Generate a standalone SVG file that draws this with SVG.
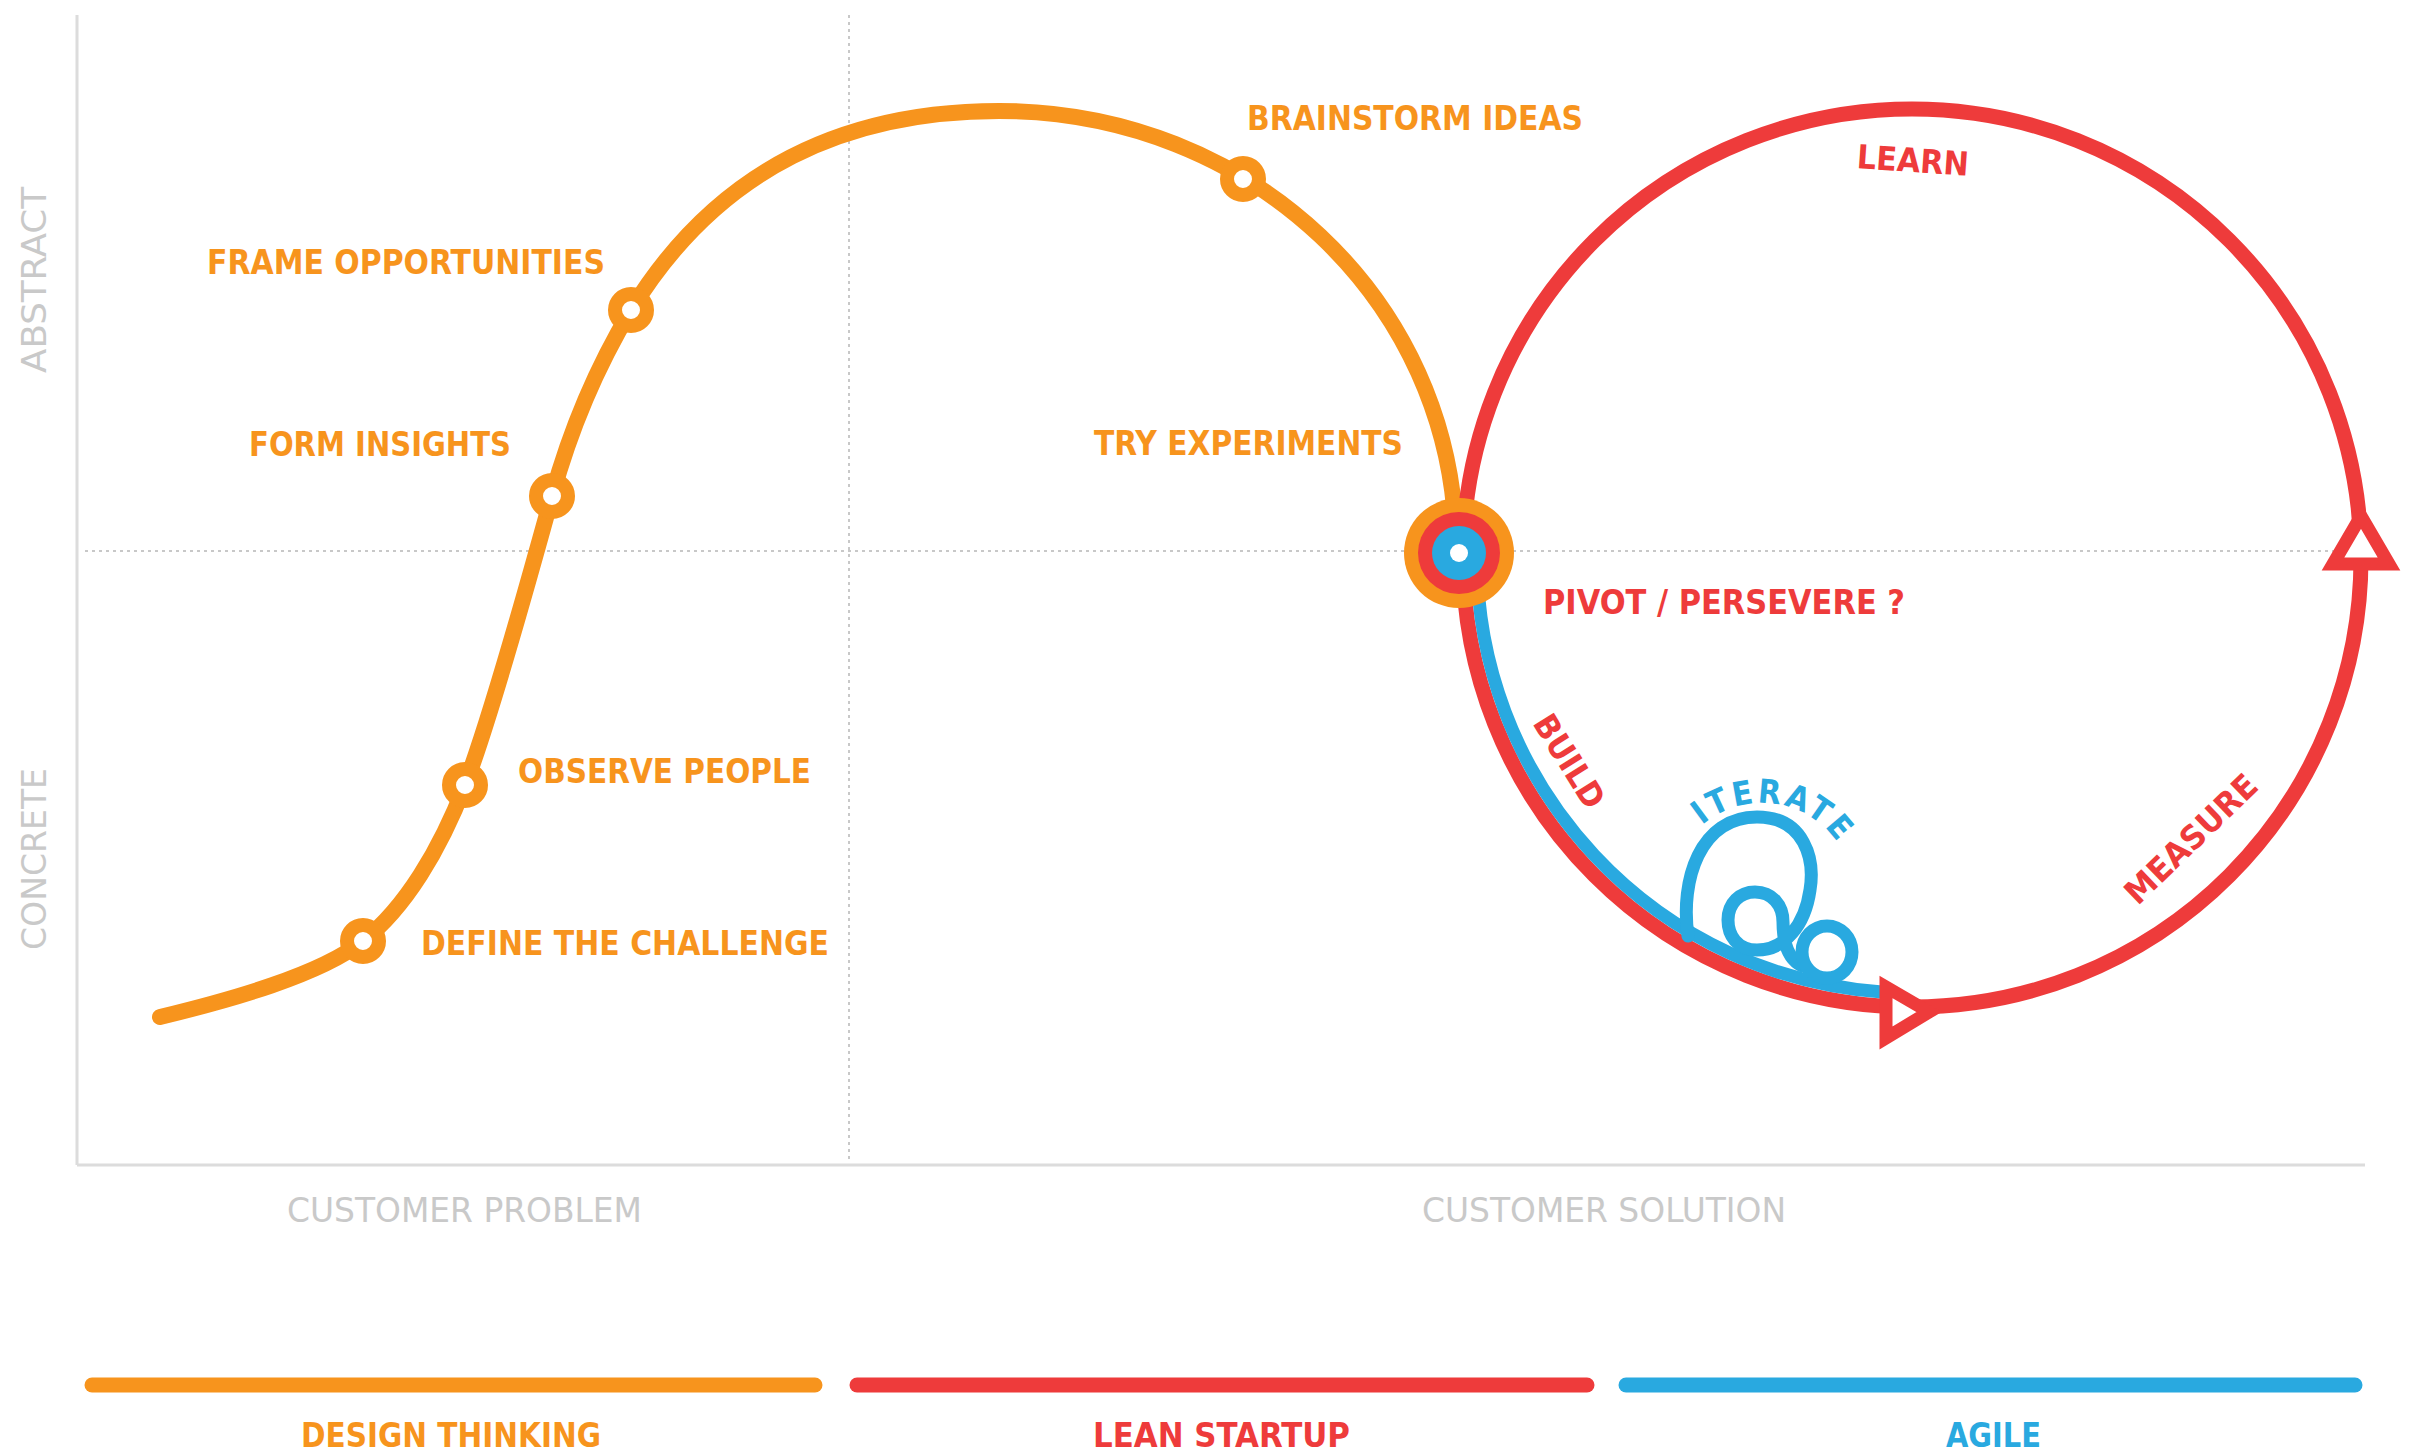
<svg xmlns="http://www.w3.org/2000/svg" width="2410" height="1455" viewBox="0 0 2410 1455">
<style>
.ax{stroke:#dcdcdc;stroke-width:3;fill:none}
.dot{stroke:#c8c8c8;stroke-width:2;stroke-dasharray:3 4;fill:none}
.gt{font-family:'DejaVu Sans Condensed','Liberation Sans Narrow','Liberation Sans',sans-serif;font-size:34px;fill:#c9c9c9}
.lb{font-family:'DejaVu Sans Condensed','Liberation Sans Narrow','Liberation Sans',sans-serif;font-weight:bold;font-size:33px}
.o{fill:#F7941D}.r{fill:#EE3B3B}.b{fill:#29A9E0}
.oc{fill:#fff;stroke:#F7941D;stroke-width:14}
.orange{stroke:#F7941D;stroke-width:16;fill:none;stroke-linecap:round}
.red{stroke:#EE3B3B;stroke-width:15;fill:none}
.blue{stroke:#29A9E0;stroke-width:13;fill:none;stroke-linecap:round}
.arr{fill:#fff;stroke:#EE3B3B;stroke-width:13;stroke-linejoin:miter}
.bar{stroke-width:15;stroke-linecap:round}
</style>
<rect width="2410" height="1455" fill="#fff"/>
<g id="axes">
<line class="ax" x1="77" y1="15" x2="77" y2="1165"/>
<line class="ax" x1="77" y1="1165" x2="2365" y2="1165"/>
<line class="dot" x1="849" y1="15" x2="849" y2="1160"/>
<line class="dot" x1="85" y1="551" x2="2365" y2="551"/>
<text class="gt" transform="translate(46,280) rotate(-90)" text-anchor="middle" textLength="186" lengthAdjust="spacingAndGlyphs">ABSTRACT</text>
<text class="gt" transform="translate(46,859) rotate(-90)" text-anchor="middle" textLength="182" lengthAdjust="spacingAndGlyphs">CONCRETE</text>
<text class="gt" x="287" y="1222" textLength="355" lengthAdjust="spacingAndGlyphs">CUSTOMER PROBLEM</text>
<text class="gt" x="1422" y="1222" textLength="364" lengthAdjust="spacingAndGlyphs">CUSTOMER SOLUTION</text>
</g>
<g id="connectors">
<path id="design-curve" class="orange" d="M160,1017 C230,1000 320,975 363,941 C405,908 440,850 465,785 C490,720 533,565 552,496 C571,427 598,365 631,310 C720,165 850,111 999,111 C1250,111 1452,300 1456,542"/>
<circle id="lean-loop" class="red" cx="1912" cy="558" r="449"/>
<path id="agile-arc" class="blue" d="M1477,558 A435,435 0 0 0 1882,992"/>
<path id="iterate-loops" class="blue" d="M1688,936 C1680,880 1700,817 1757,817 C1805,817 1815,860 1810,890 C1805,925 1785,950 1757,950 C1737,950 1728,935 1728,920 C1728,903 1740,892 1755,892 C1772,892 1783,905 1783,922 C1783,945 1790,960 1802,966"/>
<ellipse class="blue" cx="1827" cy="952" rx="25" ry="26"/>
<path id="arrow-up" class="arr" d="M2361,516 L2389,564 L2333,564 Z"/>
<path id="arrow-right" class="arr" d="M1929,1012 L1886,987 L1886,1038 Z"/>
</g>
<g id="node-define"><circle class="oc" cx="363" cy="941" r="16"/><text class="lb o" x="421" y="955" textLength="408" lengthAdjust="spacingAndGlyphs">DEFINE THE CHALLENGE</text></g>
<g id="node-observe"><circle class="oc" cx="465" cy="785" r="16"/><text class="lb o" x="518" y="783" textLength="293" lengthAdjust="spacingAndGlyphs">OBSERVE PEOPLE</text></g>
<g id="node-insights"><circle class="oc" cx="552" cy="496" r="16"/><text class="lb o" x="249" y="456" textLength="262" lengthAdjust="spacingAndGlyphs">FORM INSIGHTS</text></g>
<g id="node-frame"><circle class="oc" cx="631" cy="310" r="16"/><text class="lb o" x="207" y="274" textLength="398" lengthAdjust="spacingAndGlyphs">FRAME OPPORTUNITIES</text></g>
<g id="node-brainstorm"><circle class="oc" cx="1243" cy="179" r="16"/><text class="lb o" x="1247" y="130" textLength="336" lengthAdjust="spacingAndGlyphs">BRAINSTORM IDEAS</text></g>
<g id="node-experiments"><text class="lb o" x="1094" y="455" textLength="309" lengthAdjust="spacingAndGlyphs">TRY EXPERIMENTS</text></g>
<g id="node-pivot">
<circle cx="1459" cy="553" r="55" fill="#F7941D"/>
<circle cx="1459" cy="553" r="41" fill="#EE3B3B"/>
<circle cx="1459" cy="553" r="27" fill="#29A9E0"/>
<circle cx="1459" cy="553" r="9" fill="#fff"/>
<text class="lb r" x="1543" y="614" font-size="36" textLength="362" lengthAdjust="spacingAndGlyphs">PIVOT / PERSEVERE ?</text>
</g>
<g id="label-learn"><text class="lb r" transform="translate(1913,160) rotate(4)" text-anchor="middle" y="12" textLength="112" lengthAdjust="spacingAndGlyphs">LEARN</text></g>
<g id="label-build"><text class="lb r" font-size="28" transform="translate(1568,762) rotate(58)" text-anchor="middle" y="10" textLength="104" lengthAdjust="spacingAndGlyphs">BUILD</text></g>
<g id="label-measure"><text class="lb r" font-size="29" transform="translate(2192,840) rotate(-44)" text-anchor="middle" y="10" textLength="170" lengthAdjust="spacingAndGlyphs">MEASURE</text></g>
<g id="label-iterate">
<path id="itpath" d="M1680.8,851.8 A92,92 0 0 1 1852,875.9" fill="none"/>
<text class="lb b" font-size="26"><textPath href="#itpath" startOffset="50%" text-anchor="middle" letter-spacing="3">ITERATE</textPath></text>
</g>
<g id="legend">
<line class="bar" stroke="#F7941D" x1="92" y1="1385" x2="815" y2="1385"/>
<line class="bar" stroke="#EE3B3B" x1="857" y1="1385" x2="1587" y2="1385"/>
<line class="bar" stroke="#29A9E0" x1="1626" y1="1385" x2="2355" y2="1385"/>
<text class="lb o" font-size="36" x="301" y="1447" textLength="300" lengthAdjust="spacingAndGlyphs">DESIGN THINKING</text>
<text class="lb r" font-size="36" x="1093" y="1447" textLength="257" lengthAdjust="spacingAndGlyphs">LEAN STARTUP</text>
<text class="lb b" font-size="36" x="1946" y="1447" textLength="95" lengthAdjust="spacingAndGlyphs">AGILE</text>
</g>
</svg>
